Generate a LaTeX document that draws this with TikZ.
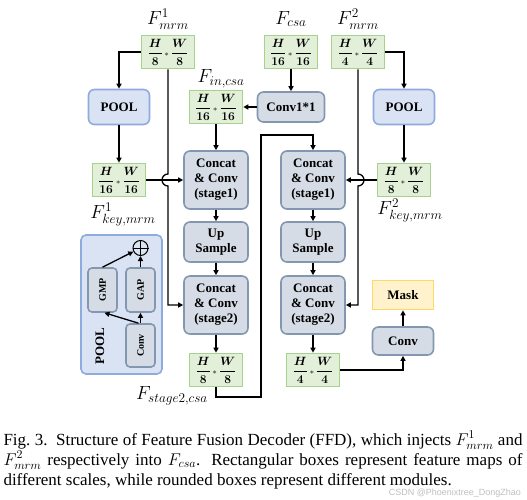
\documentclass[tikz,border=0pt]{standalone}
\usepackage{fix-cm}
\usepackage{fontspec}
\setmainfont{Liberation Serif}
\newfontfamily\wmfont{Liberation Sans}
\usepackage{amsmath,bm}
\usetikzlibrary{arrows.meta}

\definecolor{fgreen}{HTML}{E2EFD9}
\definecolor{bgreen}{HTML}{A9D18E}
\definecolor{fgray}{HTML}{D6DCE5}
\definecolor{bgray}{HTML}{8497B0}
\definecolor{fblue}{HTML}{DAE3F3}
\definecolor{bblue}{HTML}{8FAADC}
\definecolor{fyellow}{HTML}{FFF2CC}
\definecolor{byellow}{HTML}{FFD966}

\tikzset{
  fmap/.style={draw=bgreen, fill=fgreen, line width=1.6pt, minimum width=53pt, minimum height=33pt, inner sep=0pt},
  module/.style={draw=bgray, fill=fgray, line width=1.6pt, rounded corners=6pt, align=center, inner sep=0pt,
    font=\bfseries\fontsize{13}{15}\selectfont},
  poolmod/.style={module, draw=bblue, fill=fblue},
  stagebox/.style={module, minimum width=64pt, minimum height=58pt},
  flabel/.style={font=\fontsize{19}{21}\selectfont},
}
\newcommand{\fsz}[2]{\fontsize{12}{13}\selectfont$\bm{\dfrac{H}{#1}}\,{\scriptstyle\ast}\,\bm{\dfrac{W}{#2}}$}

\begin{document}
\begin{tikzpicture}[x=1pt, y=-1pt, line width=1.3pt, >={Triangle[length=5pt,width=5pt]}]
            \useasboundingbox (0,0) rectangle (527,500);

            % inputs
            \node[flabel] (lm1) at (168,19) {$F^1_{mrm}$};
            \node[fmap] (m1) at (168,52) {\fsz{8}{8}};
            \node[flabel] (lcsa) at (291,19) {$F_{csa}$};
            \node[fmap] (csa) at (291,52) {\fsz{16}{16}};
            \node[flabel] (lm2) at (358,19) {$F^2_{mrm}$};
            \node[fmap] (m2) at (358,52) {\fsz{4}{4}};

            \node[poolmod, minimum width=61pt, minimum height=35pt] (pool1) at (119,107) {POOL};
            \node[flabel] (lin) at (221,79) {$F_{in,csa}$};
            \node[fmap] (in) at (216,107) {\fsz{16}{16}};
            \node[module, minimum width=67pt, minimum height=30pt] (conv1) at (291,107) {Conv1*1};
            \node[poolmod, minimum width=61pt, minimum height=35pt] (pool2) at (404,107) {POOL};

            \node[fmap] (key1) at (119,180) {\fsz{16}{16}};
            \node[flabel] (lkey1) at (123,215) {$F^1_{key,mrm}$};
            \node[fmap] (key2) at (404,180) {\fsz{8}{8}};
            \node[flabel] (lkey2) at (410,211) {$F^2_{key,mrm}$};

            % decoder, left branch
            \node[stagebox] (cc1) at (216,180) {Concat\\\& Conv\\(stage1)};
            \node[module, minimum width=64pt, minimum height=40pt] (up1) at (216,242) {Up\\Sample};
            \node[stagebox] (cc2) at (216,305) {Concat\\\& Conv\\(stage2)};
            \node[fmap] (out1) at (216,370) {\fsz{8}{8}};
            \node[flabel] (lout) at (172,396) {$F_{stage2,csa}$};

            % decoder, right branch
            \node[stagebox] (cc3) at (313,180) {Concat\\\& Conv\\(stage1)};
            \node[module, minimum width=64pt, minimum height=40pt] (up2) at (313,242) {Up\\Sample};
            \node[stagebox] (cc4) at (313,305) {Concat\\\& Conv\\(stage2)};
            \node[fmap] (out2) at (313,370) {\fsz{4}{4}};
            \node[module, minimum width=61pt, minimum height=28pt] (conv2) at (403,341) {Conv};
            \node[draw=byellow, fill=fyellow, line width=1.6pt, minimum width=61pt, minimum height=29pt,
              font=\bfseries\fontsize{13}{15}\selectfont] (mask) at (403,295) {Mask};

            % pool detail
            \node[poolmod, minimum width=81pt, minimum height=139pt, rounded corners=5pt] (pooldet) at (121.5,304.5) {};
            \node[font=\bfseries\fontsize{13}{15}\selectfont] (pooltxt) at (100,346) {\rotatebox{90}{POOL}};
            \node[module, minimum width=29pt, minimum height=44pt, rounded corners=4pt,
              font=\bfseries\fontsize{10}{12}\selectfont] (gmp) at (102.5,290) {\rotatebox{90}{GMP}};
            \node[module, minimum width=29pt, minimum height=44pt, rounded corners=4pt,
              font=\bfseries\fontsize{10}{12}\selectfont] (gap) at (140.5,290) {\rotatebox{90}{GAP}};
            \node[module, minimum width=29pt, minimum height=43pt, rounded corners=4pt,
              font=\bfseries\fontsize{10}{12}\selectfont] (conv3) at (140.5,345.5) {\rotatebox{90}{Conv}};
            \node[draw, circle, line width=1pt, minimum size=15pt, inner sep=0pt] (plus) at (140.5,248) {};
            \draw[line width=1pt] (plus.north) -- (plus.south) (plus.west) -- (plus.east);

            \draw[->] (conv3.north) -- (gap.south);
            \draw[->] ([xshift=-2pt]conv3.north) -- ([xshift=2pt]gmp.south);
            \draw[->] (gmp.north) -- (plus);
            \draw[->] (gap.north) -- (plus.south);

            % connections
            \draw[->] (m1.west) -| (pool1.north);
            \draw[->] (pool1) -- (key1);
            \draw[->] (key1) -- (cc1);
            \draw[->] (m1.south) -- (168,174) arc (270:90:6) |- (cc2.west);
            \draw[->] (csa) -- (conv1);
            \draw[->] (conv1) -- (in);
            \draw[->] (in) -- (cc1);
            \draw[->] (cc1) -- (up1);
            \draw[->] (up1) -- (cc2);
            \draw[->] (cc2) -- (out1);
            \draw[->] (out1.south) -- (216,397) -- (261,397) -- (261,135) -| (cc3.north);

            \draw[->] (m2.east) -| (pool2.north);
            \draw[->] (pool2) -- (key2);
            \draw[->] (key2) -- (cc3);
            \draw[->] (m2.south) -- (358,174) arc (-90:90:6) |- (cc4.east);
            \draw[->] (cc3) -- (up2);
            \draw[->] (up2) -- (cc4);
            \draw[->] (cc4) -- (out2);
            \draw[->] (out2.east) -| (conv2.south);
            \draw[->] (conv2) -- (mask);

            % caption
            \node[text width=519pt, align=justify, inner sep=0pt, font=\fontsize{17}{20}\selectfont] (cap) at (263,460)
              {\hyphenpenalty=10000 Fig.~3.\enskip Structure of Feature Fusion Decoder (FFD), which injects $F^1_{mrm}$ and
               $F^2_{mrm}$ respectively into $F_{csa}$. Rectangular boxes represent feature maps of
               different scales, while rounded boxes represent different modules.};
            \node[font=\wmfont\fontsize{9}{10}\selectfont, text=black!25, anchor=east] (wm) at (525,493) {CSDN @Phoenixtree\_DongZhao};
    	\end{tikzpicture}
\end{document}
